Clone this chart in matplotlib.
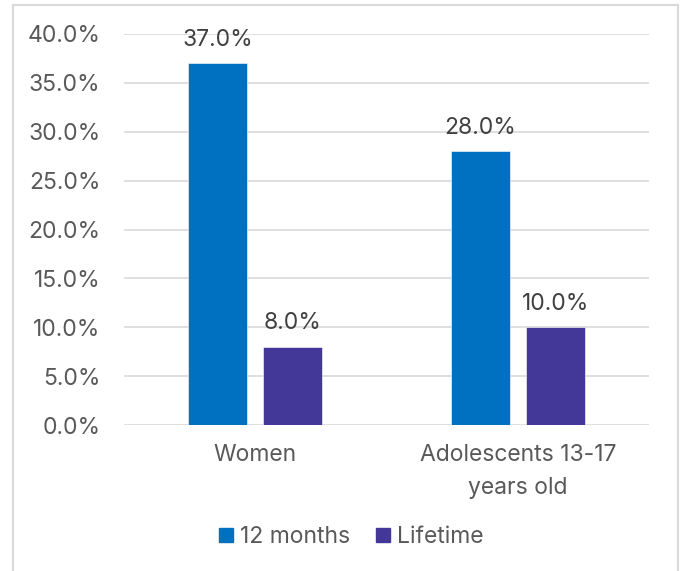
import matplotlib
matplotlib.use("Agg")
import matplotlib.pyplot as plt
from matplotlib.patches import Rectangle
from matplotlib.lines import Line2D
import numpy as np

categories = ["Women", "Adolescents 13-17\nyears old"]
series_names = ["12 months", "Lifetime"]
months12 = [37.0, 28.0]
lifetime = [8.0, 10.0]
yticks = [0, 5, 10, 15, 20, 25, 30, 35, 40]
colors = ["#0070C0", "#433797"]
txt = "#595959"
fs = 16.5

plt.rcParams['font.family'] = ['Inter', 'DejaVu Sans']

fig = plt.figure(figsize=(6.81, 5.71), dpi=100)
ax = fig.add_axes([124/681, 1-425/571, 525/681, (425-34)/571])

x = np.arange(len(categories))
w = 0.225
off = 0.143
for vals, o, c in [(months12, -off, colors[0]), (lifetime, off, colors[1])]:
    bars = ax.bar(x + o, vals, width=w, color=c, edgecolor='white', linewidth=0.4, zorder=3)
    for b, v in zip(bars, vals):
        ax.annotate(f"{v:.1f}%", (b.get_x() + b.get_width()/2, v), xytext=(0, 9),
                    textcoords='offset points', ha='center', va='bottom',
                    fontsize=fs, color='#404040')

ax.set_xlim(-0.5, 1.5)
ax.set_ylim(0, 40)
ax.set_yticks(yticks)
ax.set_yticklabels([f"{t:.1f}%" for t in yticks])
ax.set_xticks(x)
ax.set_xticklabels(categories, linespacing=1.62)
ax.tick_params(axis='y', length=0, pad=17, labelsize=fs, labelcolor=txt)
ax.tick_params(axis='x', length=0, pad=14, labelsize=fs, labelcolor=txt)
ax.grid(axis='y', color='#D9D9D9', linewidth=1.2, zorder=0)
for s in ax.spines.values():
    s.set_visible(False)

handles = [Line2D([], [], marker='s', linestyle='none', markersize=10, color=c) for c in colors]
fig.legend(handles, series_names, loc='center', bbox_to_anchor=(350/681, 1-537/571),
           ncol=2, frameon=False, fontsize=fs, labelcolor=txt, handletextpad=0.2,
           columnspacing=1.05, handlelength=0.8)

fig.patches.append(Rectangle((13/681, -0.05), (678-13)/681, 1.05-5/571, transform=fig.transFigure,
                             fill=False, edgecolor='#D9D9D9', linewidth=1.5))
fig.savefig("out.png", dpi=100)
